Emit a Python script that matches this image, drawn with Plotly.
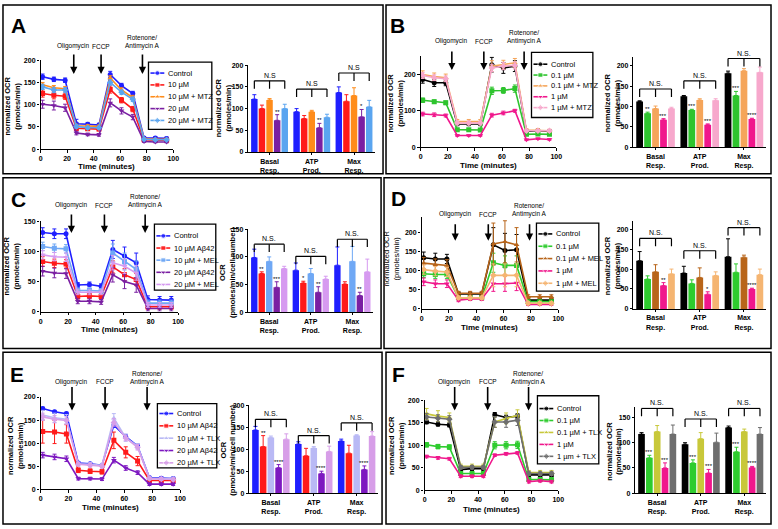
import plotly.graph_objects as go

W, H = 778, 529
FONT = "Arial, Liberation Sans, sans-serif"

# ---------------- shared data ----------------
TIME = [1.5, 10, 18.5, 27, 35.5, 44, 52.5, 61, 69.5, 78, 86.5, 95]
X_TICKS = [0, 20, 40, 60, 80, 100]
BAR_CATS = ["Basal<br>Resp.", "ATP<br>Prod.", "Max<br>Resp."]
INJ_LABELS = ["Oligomycin", "FCCP", "Rotenone/<br>Antimycin A"]

# ---------------- Panel A ----------------
A_NAMES = ["Control", "10 µM", "10 µM + MTZ", "20 µM", "20 µM + MTZ"]
A_COLORS = ["#1f1fff", "#ff1a1a", "#ff8c1a", "#7a1fa2", "#5aa5f0"]
A_INJ = [25, 45.6, 76.8]
A_OCR_1 = [163, 157, 155, 57, 56, 54, 168, 143, 125, 25, 25, 24]
A_OCR_2 = [125, 121, 119, 47, 46, 45, 134, 110, 90, 21, 20, 20]
A_OCR_3 = [145, 138, 136, 52, 52, 51, 160, 133, 116, 23, 22, 22]
A_OCR_4 = [101, 98, 93, 36, 33, 32, 104, 86, 72, 17, 16, 16]
A_OCR_5 = [140, 133, 133, 51, 48, 48, 150, 128, 112, 22, 21, 21]
A_ERR_1 = [6, 5, 5, 10, 4, 4, 7, 5, 5, 3, 3, 3]
A_ERR_2 = [8, 8, 7, 5, 4, 4, 8, 6, 6, 2, 2, 2]
A_ERR_3 = [5, 5, 5, 4, 3, 3, 5, 5, 5, 2, 2, 2]
A_ERR_4 = [9, 10, 8, 4, 3, 3, 9, 7, 6, 2, 2, 2]
A_ERR_5 = [6, 6, 5, 4, 3, 3, 6, 5, 5, 2, 2, 2]
A_BAR_1 = [122, 93, 137]
A_BAR_2 = [100, 77, 117]
A_BAR_3 = [120, 93, 130]
A_BAR_4 = [73, 56, 81]
A_BAR_5 = [100, 80, 104]
A_BERR_1 = [10, 7, 13]
A_BERR_2 = [8, 7, 15]
A_BERR_3 = [3, 3, 18]
A_BERR_4 = [13, 10, 17]
A_BERR_5 = [10, 7, 15]
A_STARS = [(3, 0, "**"), (3, 1, "**"), (3, 2, "*")]
A_BRACKETS = [164, 145, 182]

# ---------------- Panel B ----------------
B_NAMES = ["Control", "0.1 µM", "0.1 µM + MTZ", "1 µM", "1 µM + MTZ"]
B_COLORS = ["#000000", "#2ec42e", "#f5a55a", "#f0178c", "#f7a8cc"]
B_INJ = [23, 46.6, 76.3]
B_OCR_1 = [186, 177, 177, 64, 64, 64, 227, 218, 223, 43, 45, 43]
B_OCR_2 = [129, 125, 122, 48, 48, 47, 155, 156, 161, 35, 36, 35]
B_OCR_3 = [200, 194, 191, 70, 70, 70, 223, 227, 232, 47, 47, 45]
B_OCR_4 = [91, 89, 87, 32, 32, 32, 88, 94, 100, 20, 23, 21]
B_OCR_5 = [197, 191, 188, 66, 66, 66, 218, 223, 225, 45, 45, 45]
B_ERR_1 = [10, 10, 8, 5, 5, 5, 20, 15, 15, 5, 5, 5]
B_ERR_2 = [6, 5, 5, 3, 3, 3, 10, 8, 10, 3, 3, 3]
B_ERR_3 = [10, 10, 10, 6, 6, 6, 15, 12, 12, 4, 4, 4]
B_ERR_4 = [5, 5, 4, 2, 2, 2, 5, 5, 4, 2, 2, 2]
B_ERR_5 = [8, 8, 8, 5, 5, 5, 10, 10, 10, 3, 3, 3]
B_BAR_1 = [112, 125, 182]
B_BAR_2 = [83, 91, 127]
B_BAR_3 = [95, 116, 188]
B_BAR_4 = [67, 55, 69]
B_BAR_5 = [95, 115, 184]
B_BERR_1 = [2, 2, 5]
B_BERR_2 = [3, 2, 10]
B_BERR_3 = [6, 3, 5]
B_BERR_4 = [3, 2, 2]
B_BERR_5 = [3, 4, 13]
B_STARS = [(1, 0, "**"), (3, 0, "***"), (1, 1, "***"), (3, 1, "***"), (1, 2, "***"), (3, 2, "****")]
B_BRACKETS = [143, 163, 218]

# ---------------- Panel C ----------------
C_NAMES = ["Control", "10 µM Aβ42", "10 µM + MEL", "20 µM Aβ42", "20 µM + MEL"]
C_COLORS = ["#1f1fff", "#ff1a1a", "#6fa8f5", "#7a1fa2", "#d69af0"]
C_INJ = [22.4, 46.4, 76]
C_OCR_1 = [131, 129, 129, 44, 45, 42, 103, 92, 81, 20, 19, 19]
C_OCR_2 = [83, 80, 79, 25, 26, 25, 74, 61, 53, 8, 8, 8]
C_OCR_3 = [108, 105, 104, 35, 35, 34, 97, 83, 70, 14, 14, 14]
C_OCR_4 = [67, 64, 63, 17, 17, 16, 61, 50, 44, 5, 5, 5]
C_OCR_5 = [94, 91, 90, 32, 32, 32, 81, 75, 64, 11, 11, 11]
C_ERR_1 = [8, 8, 8, 4, 4, 4, 15, 15, 16, 6, 6, 6]
C_ERR_2 = [8, 7, 7, 4, 4, 4, 10, 10, 10, 4, 4, 4]
C_ERR_3 = [7, 7, 7, 4, 4, 4, 15, 14, 14, 5, 5, 5]
C_ERR_4 = [8, 8, 8, 4, 4, 4, 12, 12, 12, 4, 4, 4]
C_ERR_5 = [7, 7, 7, 4, 4, 4, 12, 12, 12, 4, 4, 4]
C_BAR_1 = [99, 76, 85]
C_BAR_2 = [70, 53, 51]
C_BAR_3 = [92, 70, 92]
C_BAR_4 = [45, 36, 30]
C_BAR_5 = [79, 60, 73]
C_BERR_1 = [15, 13, 33]
C_BERR_2 = [3, 3, 4]
C_BERR_3 = [8, 9, 27]
C_BERR_4 = [10, 10, 6]
C_BERR_5 = [4, 5, 23]
C_STARS = [(1, 0, "**"), (3, 0, "***"), (1, 1, "*"), (3, 1, "**"), (3, 2, "**")]
C_BRACKETS = [123, 101, 132]

# ---------------- Panel D ----------------
D_NAMES = ["Control", "0.1 µM", "0.1 µM + MEL", "1 µM", "1 µM + MEL"]
D_COLORS = ["#000000", "#2ecc2e", "#b8651a", "#f0178c", "#f5b572"]
D_INJ = [24.6, 48.8, 79]
D_OCR_1 = [134, 131, 131, 39, 39, 39, 168, 153, 155, 23, 23, 23]
D_OCR_2 = [92, 90, 90, 29, 29, 29, 121, 114, 114, 19, 19, 19]
D_OCR_3 = [120, 116, 114, 41, 41, 41, 170, 176, 168, 32, 32, 32]
D_OCR_4 = [71, 66, 66, 23, 26, 26, 66, 66, 68, 12, 12, 12]
D_OCR_5 = [103, 99, 97, 29, 29, 29, 88, 88, 88, 15, 15, 15]
D_ERR_1 = [15, 15, 12, 5, 5, 5, 45, 45, 40, 5, 5, 5]
D_ERR_2 = [10, 10, 10, 4, 4, 4, 25, 25, 25, 4, 4, 4]
D_ERR_3 = [15, 15, 15, 5, 5, 5, 55, 55, 45, 5, 5, 5]
D_ERR_4 = [10, 10, 10, 4, 4, 4, 20, 20, 20, 3, 3, 3]
D_ERR_5 = [12, 12, 12, 4, 4, 4, 30, 30, 30, 4, 4, 4]
D_BAR_1 = [121, 90, 131]
D_BAR_2 = [75, 64, 92]
D_BAR_3 = [93, 79, 130]
D_BAR_4 = [59, 37, 50]
D_BAR_5 = [88, 84, 86]
D_BERR_1 = [23, 17, 45]
D_BERR_2 = [8, 9, 21]
D_BERR_3 = [18, 24, 5]
D_BERR_4 = [7, 6, 2]
D_BERR_5 = [12, 9, 14]
D_STARS = [(3, 0, "**"), (3, 1, "*"), (3, 2, "****")]
D_BRACKETS = [177, 146, 204]

# ---------------- Panel E ----------------
E_NAMES = ["Control", "10 µM Aβ42", "10 µM + TLX", "20 µM Aβ42", "20 µM + TLX"]
E_COLORS = ["#1f1fff", "#ff1a1a", "#b9b9f5", "#7d18c0", "#d79ee8"]
E_INJ = [22.5, 46.2, 76.3]
E_OCR_1 = [175, 168, 164, 57, 55, 52, 139, 114, 94, 25, 24, 23]
E_OCR_2 = [125, 124, 120, 41, 39, 38, 106, 80, 61, 19, 19, 19]
E_OCR_3 = [161, 155, 152, 55, 54, 52, 154, 112, 93, 24, 23, 23]
E_OCR_4 = [74, 70, 66, 23, 23, 22, 63, 46, 36, 11, 11, 11]
E_OCR_5 = [157, 152, 149, 54, 52, 50, 145, 111, 91, 23, 22, 21]
E_ERR_1 = [3, 3, 3, 3, 3, 3, 5, 4, 4, 3, 3, 3]
E_ERR_2 = [25, 25, 20, 5, 5, 5, 18, 12, 10, 3, 3, 3]
E_ERR_3 = [10, 10, 10, 4, 4, 4, 10, 8, 6, 3, 3, 3]
E_ERR_4 = [6, 6, 6, 3, 3, 3, 6, 5, 4, 3, 3, 3]
E_ERR_5 = [8, 8, 8, 4, 4, 4, 8, 6, 6, 3, 3, 3]
E_BAR_1 = [144, 112, 119]
E_BAR_2 = [106, 85, 91]
E_BAR_3 = [127, 103, 131]
E_BAR_4 = [58, 45, 54]
E_BAR_5 = [123, 95, 130]
E_BERR_1 = [8, 5, 4]
E_BERR_2 = [25, 17, 18]
E_BERR_3 = [3, 3, 2]
E_BERR_4 = [7, 5, 8]
E_BERR_5 = [12, 12, 10]
E_STARS = [(1, 0, "**"), (3, 0, "****"), (3, 1, "****"), (3, 2, "****")]
E_BRACKETS = [168, 131, 160]

# ---------------- Panel F ----------------
F_NAMES = ["Control", "0.1 µM", "0.1 µM + TLX", "1 µM", "1 µm + TLX"]
F_COLORS = ["#000000", "#2ecc2e", "#c8c83a", "#f0178c", "#6e6e6e"]
F_INJ = [22.5, 47.2, 77.8]
F_OCR_1 = [152, 147, 145, 46, 48, 48, 168, 162, 165, 34, 34, 34]
F_OCR_2 = [101, 97, 96, 37, 37, 37, 100, 100, 101, 24, 24, 23]
F_OCR_3 = [170, 165, 162, 53, 53, 53, 152, 160, 167, 39, 39, 39]
F_OCR_4 = [75, 72, 70, 31, 31, 31, 78, 81, 83, 19, 21, 19]
F_OCR_5 = [163, 160, 158, 51, 51, 51, 152, 152, 156, 37, 37, 37]
F_ERR_1 = [4, 4, 4, 4, 4, 4, 5, 5, 5, 4, 4, 4]
F_ERR_2 = [5, 5, 5, 4, 4, 4, 8, 8, 8, 4, 4, 4]
F_ERR_3 = [12, 12, 10, 5, 5, 5, 12, 12, 12, 5, 5, 5]
F_ERR_4 = [3, 3, 3, 3, 3, 3, 3, 3, 3, 3, 3, 3]
F_ERR_5 = [8, 8, 8, 4, 4, 4, 12, 12, 12, 4, 4, 4]
F_BAR_1 = [117, 97, 130]
F_BAR_2 = [70, 60, 82]
F_BAR_3 = [122, 108, 122]
F_BAR_4 = [50, 40, 51]
F_BAR_5 = [117, 101, 117]
F_BERR_1 = [3, 3, 3]
F_BERR_2 = [5, 6, 9]
F_BERR_3 = [12, 12, 5]
F_BERR_4 = [10, 7, 2]
F_BERR_5 = [18, 18, 13]
F_STARS = [(1, 0, "***"), (3, 0, "***"), (1, 1, "***"), (3, 1, "***"), (1, 2, "***"), (3, 2, "****")]
F_BRACKETS = [168, 147, 168]

# ---------------- layout geometry (pixels) ----------------
NORM_TITLE = "normalized OCR<br>(pmoles/min)"
CELL_TITLE = "OCR<br>(pmoles/min/cell number)"
PANELS = [
    dict(letter="A", letter_xy=(17, 22), box=(1, 1, 385, 172),
         names=A_NAMES, colors=A_COLORS, inj=A_INJ,
         ocr=[A_OCR_1, A_OCR_2, A_OCR_3, A_OCR_4, A_OCR_5],
         err=[A_ERR_1, A_ERR_2, A_ERR_3, A_ERR_4, A_ERR_5],
         bar=[A_BAR_1, A_BAR_2, A_BAR_3, A_BAR_4, A_BAR_5],
         berr=[A_BERR_1, A_BERR_2, A_BERR_3, A_BERR_4, A_BERR_5],
         stars=A_STARS, brackets=A_BRACKETS, ns="N.S",
         symbols=["circle", "square", "triangle-up", "triangle-down", "diamond"],
         lx=(39, 173), ly=(57, 147), lrange=[0, 200], lticks=[0, 50, 100, 150, 200],
         bx=(249, 377), by=(62, 150), brange=[0, 200], bticks=[0, 50, 100, 150, 200],
         btitle=NORM_TITLE, lt_xy=(11, 103), bt_xy=(224, 105), xt_y=165, lbold=True,
         arrow=(50, 71), label_y=43,
         legbox=(148, 59, 212, 127), leg_y0=70, leg_dy=12),
    dict(letter="B", letter_xy=(400, 22), box=(388, 1, 777, 172),
         names=B_NAMES, colors=B_COLORS, inj=B_INJ,
         ocr=[B_OCR_1, B_OCR_2, B_OCR_3, B_OCR_4, B_OCR_5],
         err=[B_ERR_1, B_ERR_2, B_ERR_3, B_ERR_4, B_ERR_5],
         bar=[B_BAR_1, B_BAR_2, B_BAR_3, B_BAR_4, B_BAR_5],
         berr=[B_BERR_1, B_BERR_2, B_BERR_3, B_BERR_4, B_BERR_5],
         stars=B_STARS, brackets=B_BRACKETS, ns="N.S.",
         symbols=["circle", "square", "triangle-up", "triangle-down", "diamond"],
         lx=(423, 560), ly=(53, 145), lrange=[0, 250], lticks=[0, 100, 200],
         bx=(638, 772), by=(53.6, 145), brange=[0, 222], bticks=[0, 50, 100, 150, 200],
         btitle=NORM_TITLE, lt_xy=(398, 100), bt_xy=(617, 100), xt_y=164, lbold=True,
         arrow=(47, 67), label_y=38,
         legbox=(535, 49, 597, 115), leg_y0=61, leg_dy=11),
    dict(letter="C", letter_xy=(17, 198), box=(1, 176, 383, 349),
         names=C_NAMES, colors=C_COLORS, inj=C_INJ,
         ocr=[C_OCR_1, C_OCR_2, C_OCR_3, C_OCR_4, C_OCR_5],
         err=[C_ERR_1, C_ERR_2, C_ERR_3, C_ERR_4, C_ERR_5],
         bar=[C_BAR_1, C_BAR_2, C_BAR_3, C_BAR_4, C_BAR_5],
         berr=[C_BERR_1, C_BERR_2, C_BERR_3, C_BERR_4, C_BERR_5],
         stars=C_STARS, brackets=C_BRACKETS, ns="N.S.",
         symbols=["circle", "square", "square", "triangle-down", "triangle-down"],
         lx=(39, 178), ly=(220, 311.7), lrange=[0, 150], lticks=[0, 50, 100, 150],
         bx=(249, 375), by=(228.3, 312.3), brange=[0, 150], bticks=[0, 50, 100, 150],
         btitle=CELL_TITLE, lt_xy=(10, 265), bt_xy=(228, 272), xt_y=330, lbold=True,
         arrow=(212, 232), label_y=204,
         legbox=(154, 223, 216, 290), leg_y0=235, leg_dy=12.3),
    dict(letter="D", letter_xy=(401, 197), box=(386, 176, 777, 349),
         names=D_NAMES, colors=D_COLORS, inj=D_INJ,
         ocr=[D_OCR_1, D_OCR_2, D_OCR_3, D_OCR_4, D_OCR_5],
         err=[D_ERR_1, D_ERR_2, D_ERR_3, D_ERR_4, D_ERR_5],
         bar=[D_BAR_1, D_BAR_2, D_BAR_3, D_BAR_4, D_BAR_5],
         berr=[D_BERR_1, D_BERR_2, D_BERR_3, D_BERR_4, D_BERR_5],
         stars=D_STARS, brackets=D_BRACKETS, ns="N.S.",
         symbols=["circle", "square", "triangle-up", "triangle-down", "diamond"],
         lx=(424, 562), ly=(216.2, 309), lrange=[0, 240], lticks=[0, 50, 100, 150, 200],
         bx=(638, 772), by=(220.2, 309), brange=[0, 220], bticks=[0, 50, 100, 150, 200],
         btitle=NORM_TITLE, lt_xy=(394, 258), bt_xy=(617, 265), xt_y=328, lbold=False,
         arrow=(222, 240), label_y=213,
         legbox=(540, 222, 603, 291), leg_y0=233, leg_dy=12.5),
    dict(letter="E", letter_xy=(15, 375), box=(1, 353, 384, 527),
         names=E_NAMES, colors=E_COLORS, inj=E_INJ,
         ocr=[E_OCR_1, E_OCR_2, E_OCR_3, E_OCR_4, E_OCR_5],
         err=[E_ERR_1, E_ERR_2, E_ERR_3, E_ERR_4, E_ERR_5],
         bar=[E_BAR_1, E_BAR_2, E_BAR_3, E_BAR_4, E_BAR_5],
         berr=[E_BERR_1, E_BERR_2, E_BERR_3, E_BERR_4, E_BERR_5],
         stars=E_STARS, brackets=E_BRACKETS, ns="N.S.",
         symbols=["circle", "square", "triangle-up", "triangle-down", "diamond"],
         lx=(39, 180), ly=(398.3, 491.7), lrange=[0, 200], lticks=[0, 50, 100, 150, 200],
         bx=(250, 380), by=(406.7, 495.7), brange=[0, 200], bticks=[0, 50, 100, 150, 200],
         btitle=CELL_TITLE, lt_xy=(13, 447), bt_xy=(228, 452), xt_y=510, lbold=True,
         arrow=(387, 412), label_y=383,
         legbox=(157, 405, 217, 470), leg_y0=415, leg_dy=12.5),
    dict(letter="F", letter_xy=(401, 375), box=(388, 353, 777, 527),
         names=F_NAMES, colors=F_COLORS, inj=F_INJ,
         ocr=[F_OCR_1, F_OCR_2, F_OCR_3, F_OCR_4, F_OCR_5],
         err=[F_ERR_1, F_ERR_2, F_ERR_3, F_ERR_4, F_ERR_5],
         bar=[F_BAR_1, F_BAR_2, F_BAR_3, F_BAR_4, F_BAR_5],
         berr=[F_BERR_1, F_BERR_2, F_BERR_3, F_BERR_4, F_BERR_5],
         stars=F_STARS, brackets=F_BRACKETS, ns="N.S.",
         symbols=["circle", "square", "triangle-up", "triangle-down", "diamond"],
         lx=(427, 562), ly=(401.7, 492.7), lrange=[0, 200], lticks=[0, 50, 100, 150, 200],
         bx=(640, 772), by=(408.8, 495.7), brange=[0, 170], bticks=[0, 50, 100, 150],
         btitle=NORM_TITLE, lt_xy=(398, 447), bt_xy=(618, 453), xt_y=512, lbold=True,
         arrow=(387, 412), label_y=383,
         legbox=(541, 397, 603, 466), leg_y0=410, leg_dy=12.1),
]

BARGAP = 0.1
BARGROUPGAP = 0.15
NSER = 5


def fx(px):
    return px / W


def fy(py):
    return 1 - py / H


def names_for(i):
    if i == 1:
        return "x", "y", "xaxis", "yaxis"
    return f"x{i}", f"y{i}", f"xaxis{i}", f"yaxis{i}"


def bar_offset(s):
    slot = (1 - BARGAP) / NSER
    return -(1 - BARGAP) / 2 + slot * (s + 0.5)


fig = go.Figure()
layout = {}
shapes = []
annotations = []

TICKFONT = dict(family=FONT, size=7, color="black", weight="bold")
TITLEFONT = dict(family=FONT, size=7.5, color="black", weight="bold")


def axis_common():
    return dict(showline=True, linecolor="black", linewidth=1.3, ticks="outside",
                ticklen=2.5, tickwidth=1.2, tickcolor="black", showgrid=False,
                zeroline=False, tickfont=TICKFONT, fixedrange=True)


def paper_text(xp, yp, text, font, angle=0, xanchor="center"):
    annotations.append(dict(x=fx(xp), y=fy(yp), xref="paper", yref="paper", text=text,
                            showarrow=False, textangle=angle, xanchor=xanchor,
                            yanchor="middle", font=font))


for k, P in enumerate(PANELS):
    li, bi = 2 * k + 1, 2 * k + 2
    xl, yl, xlk, ylk = names_for(li)
    xb, yb, xbk, ybk = names_for(bi)

    # ---- line chart axes
    layout[xlk] = dict(axis_common(), domain=[fx(P["lx"][0]), fx(P["lx"][1])], anchor=yl,
                       range=[0, 100], tickvals=X_TICKS)
    layout[ylk] = dict(axis_common(), domain=[fy(P["ly"][1]), fy(P["ly"][0])], anchor=xl,
                       range=P["lrange"], tickvals=P["lticks"])
    # ---- bar chart axes
    layout[xbk] = dict(axis_common(), domain=[fx(P["bx"][0]), fx(P["bx"][1])], anchor=yb,
                       type="category", categoryorder="array", categoryarray=BAR_CATS,
                       range=[-0.5, 2.5], ticklen=2,
                       tickfont=dict(TICKFONT, size=7))
    layout[ybk] = dict(axis_common(), domain=[fy(P["by"][1]), fy(P["by"][0])], anchor=xb,
                       range=P["brange"], tickvals=P["bticks"])

    # ---- axis titles
    ytf = dict(TITLEFONT)
    if not P["lbold"]:
        ytf["weight"] = "normal"
    paper_text(P["lt_xy"][0], P["lt_xy"][1], NORM_TITLE, ytf, angle=-90)
    paper_text(P["bt_xy"][0], P["bt_xy"][1], P["btitle"], TITLEFONT, angle=-90)
    annotations.append(dict(x=50, y=fy(P["xt_y"]), xref=xl, yref="paper",
                            text="Time (minutes)", showarrow=False, yanchor="middle",
                            font=dict(TITLEFONT, size=8)))

    # ---- line traces
    for s in range(NSER):
        col = P["colors"][s]
        fig.add_trace(go.Scatter(
            x=TIME, y=P["ocr"][s], mode="lines+markers",
            error_y=dict(type="data", array=P["err"][s], color=col, thickness=1, width=2),
            line=dict(color=col, width=1.6),
            marker=dict(symbol=P["symbols"][s], size=5, color=col),
            xaxis=xl, yaxis=yl, showlegend=False, name=P["names"][s]))
    # ---- bar traces
    for s in range(NSER):
        col = P["colors"][s]
        fig.add_trace(go.Bar(
            x=BAR_CATS, y=P["bar"][s],
            error_y=dict(type="data", array=P["berr"][s], arrayminus=[0, 0, 0],
                         symmetric=False, color=col, thickness=1, width=2),
            marker=dict(color=col, line=dict(width=0)),
            offsetgroup=str(s), xaxis=xb, yaxis=yb, showlegend=False, name=P["names"][s]))

    # ---- brackets "N.S."
    ppu = (P["by"][1] - P["by"][0]) / (P["brange"][1] - P["brange"][0])
    drop = 8 / ppu
    for g, h in enumerate(P["brackets"]):
        xa, xm, xz = g + bar_offset(0), g + bar_offset(2), g + bar_offset(4)
        shapes.append(dict(type="line", xref=xb, yref=yb, x0=xa, x1=xz, y0=h, y1=h,
                           line=dict(color="black", width=1.2)))
        for xx in (xa, xm, xz):
            shapes.append(dict(type="line", xref=xb, yref=yb, x0=xx, x1=xx, y0=h, y1=h - drop,
                               line=dict(color="black", width=1.2)))
        annotations.append(dict(x=g, y=h, xref=xb, yref=yb, text=P["ns"], showarrow=False,
                                yanchor="bottom", yshift=0,
                                font=dict(family=FONT, size=7, color="black")))
    # ---- significance stars
    for (s, g, txt) in P["stars"]:
        annotations.append(dict(x=g + bar_offset(s), y=P["bar"][s][g] + P["berr"][s][g],
                                xref=xb, yref=yb, text=txt, showarrow=False,
                                yanchor="bottom", yshift=-2,
                                font=dict(family=FONT, size=6, color="black")))

    # ---- injection arrows and labels
    tail, tip = P["arrow"]
    for t, lab in zip(P["inj"], INJ_LABELS):
        annotations.append(dict(x=t, y=fy(tip), xref=xl, yref="paper", text="",
                                showarrow=True, arrowhead=2, arrowsize=0.9, arrowwidth=1.6,
                                arrowcolor="black", ax=0, ay=-(tip - tail)))
        two = "<br>" in lab
        annotations.append(dict(x=t, y=fy(P["label_y"] - (4.3 if two else 0)), xref=xl,
                                yref="paper", text=lab, showarrow=False,
                                yanchor="middle", xanchor="center",
                                font=dict(family=FONT, size=6.5, color="black")))

    # ---- panel letter and frame
    annotations.append(dict(x=P["letter_xy"][0], y=P["letter_xy"][1], xref="x13", yref="y13",
                            text=P["letter"], showarrow=False,
                            font=dict(family=FONT, size=21, color="black", weight="bold")))
    bx0, by0, bx1, by1 = P["box"]
    shapes.append(dict(type="rect", xref="x13", yref="y13", x0=bx0, x1=bx1, y0=by0, y1=by1,
                       line=dict(color="black", width=1.5)))

    # ---- custom legend box
    x0, y0, x1, y1 = P["legbox"]
    shapes.append(dict(type="rect", xref="x13", yref="y13", x0=x0, x1=x1, y0=y0, y1=y1,
                       line=dict(color="black", width=1.3)))
    for s in range(NSER):
        yy = P["leg_y0"] + s * P["leg_dy"]
        col = P["colors"][s]
        fig.add_trace(go.Scatter(
            x=[x0 + 2, x0 + 9, x0 + 16], y=[yy, yy, yy], mode="lines+markers",
            line=dict(color=col, width=1.6),
            marker=dict(symbol=P["symbols"][s], size=[0, 5, 0], color=col),
            xaxis="x13", yaxis="y13", showlegend=False, hoverinfo="skip"))
        annotations.append(dict(x=x0 + 18, y=yy, xref="x13", yref="y13", text=P["names"][s],
                                showarrow=False, xanchor="left", yanchor="middle",
                                font=dict(family=FONT, size=7.5, color="black")))

layout["xaxis13"] = dict(domain=[0, 1], range=[0, W], visible=False, anchor="y13", fixedrange=True)
layout["yaxis13"] = dict(domain=[0, 1], range=[H, 0], visible=False, anchor="x13", fixedrange=True)

fig.update_layout(
    width=W, height=H, autosize=False,
    margin=dict(l=0, r=0, t=0, b=0),
    paper_bgcolor="white", plot_bgcolor="rgba(0,0,0,0)",
    barmode="group", bargap=BARGAP, bargroupgap=BARGROUPGAP,
    font=dict(family=FONT, color="black"),
    hovermode=False,
    shapes=shapes, annotations=annotations,
    **layout)

fig.write_html("out.html", config={"displayModeBar": False},
               post_script="document.body.style.margin='0';")
